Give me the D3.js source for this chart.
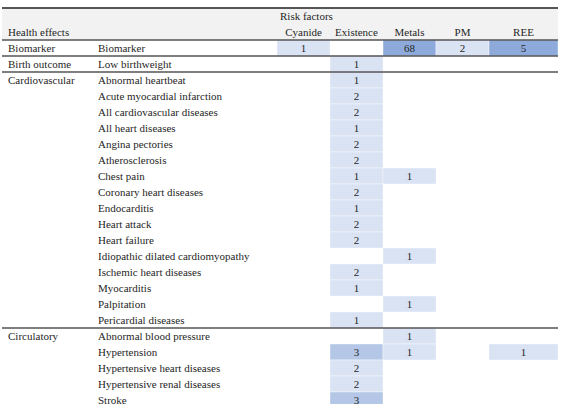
<!DOCTYPE html>
<html>
<head>
<meta charset="utf-8">
<script src="https://cdn.jsdelivr.net/npm/d3@7"></script>
<style>
  html, body { margin: 0; padding: 0; background: #fff; }
  svg { display: block; }
  svg text { font-family: "Liberation Serif", "DejaVu Serif", serif; font-size: 11px; fill: #262626; }
</style>
</head>
<body>
<script>
// ---- data ----
const riskFactors = ["Cyanide", "Existence", "Metals", "PM", "REE"];
const groups = ["Biomarker", "Birth outcome", "Cardiovascular", "", "", "", "", "", "", "", "", "", "", "", "", "", "", "",
                "Circulatory", "", "", "", ""];
const effects = ["Biomarker", "Low birthweight", "Abnormal heartbeat", "Acute myocardial infarction",
  "All cardiovascular diseases", "All heart diseases", "Angina pectories", "Atherosclerosis", "Chest pain",
  "Coronary heart diseases", "Endocarditis", "Heart attack", "Heart failure", "Idiopathic dilated cardiomyopathy",
  "Ischemic heart diseases", "Myocarditis", "Palpitation", "Pericardial diseases", "Abnormal blood pressure",
  "Hypertension", "Hypertensive heart diseases", "Hypertensive renal diseases", "Stroke"];
const cyanide   = [1, null, null, null, null, null, null, null, null, null, null, null, null, null, null, null, null, null, null, null, null, null, null];
const existence = [null, 1, 1, 2, 2, 1, 2, 2, 1, 2, 1, 2, 2, null, 2, 1, null, 1, null, 3, 2, 2, 3];
const metals    = [68, null, null, null, null, null, null, null, 1, null, null, null, null, 1, null, null, 1, null, 1, 1, null, null, null];
const pm        = [2, null, null, null, null, null, null, null, null, null, null, null, null, null, null, null, null, null, null, null, null, null, null];
const ree       = [5, null, null, null, null, null, null, null, null, null, null, null, null, null, null, null, null, null, null, 1, null, null, null];
const groupBreaks = ["Birth outcome", "Cardiovascular", "Circulatory"]; // groups that start with a rule above
const headerTitle = "Risk factors";
const firstColTitle = "Health effects";

// ---- layout ----
const W = 572, H = 410, clipBottom = 404;
const tableLeft = 2, tableRight = 558;
const topY = 8, headY = 40, rowH = 16;
const colStart = 277, colW = 53;
const FONT = "'Liberation Serif', 'DejaVu Serif', serif";

const series = [cyanide, existence, metals, pm, ree];

const svg = d3.select("body").append("svg").attr("width", W).attr("height", H)
  .attr("font-family", FONT).attr("font-size", 11);

svg.append("defs").append("clipPath").attr("id", "clip")
  .append("rect").attr("x", 0).attr("y", 0).attr("width", W).attr("height", clipBottom);

const y = d3.scaleBand().domain(d3.range(effects.length))
  .range([headY, headY + rowH * effects.length]).paddingInner(0).paddingOuter(0);
const x = d3.scaleBand().domain(riskFactors)
  .range([colStart, colStart + colW * riskFactors.length]).padding(0);
const color = d3.scaleThreshold().domain([3, 4]).range(["#dae3f3", "#b4c7e7", "#8eaadb"]);

function cellW(rf) { return rf === riskFactors[riskFactors.length - 1] ? tableRight - x(rf) : x.bandwidth(); }

// header background
svg.append("rect").attr("x", tableLeft).attr("y", topY).attr("width", tableRight - tableLeft)
  .attr("height", headY - topY).attr("fill", "#f2f2f2");

// cells
const cells = [];
series.forEach((s, j) => s.forEach((v, i) => { if (v != null) cells.push({ i, rf: riskFactors[j], v }); }));

svg.append("g").attr("clip-path", "url(#clip)").selectAll("rect").data(cells).join("rect")
  .attr("x", d => x(d.rf)).attr("y", d => y(d.i))
  .attr("width", d => cellW(d.rf)).attr("height", y.bandwidth())
  .attr("fill", d => color(d.v))
  .attr("stroke", "#fff").attr("stroke-width", 0.4);

svg.append("g").selectAll("text").data(cells).join("text")
  .attr("font-family", FONT)
  .attr("x", d => x(d.rf) + cellW(d.rf) / 2).attr("y", d => y(d.i) + y.bandwidth() / 2 + 1)
  .attr("text-anchor", "middle").attr("dominant-baseline", "middle")
  .text(d => d.v);

// header text
svg.append("text").attr("font-family", FONT).attr("x", colStart + 3).attr("y", 17)
  .attr("dominant-baseline", "middle").text(headerTitle);
svg.append("text").attr("font-family", FONT).attr("x", 8).attr("y", 33)
  .attr("dominant-baseline", "middle").text(firstColTitle);
svg.append("g").selectAll("text").data(riskFactors).join("text")
  .attr("font-family", FONT)
  .attr("x", d => x(d) + cellW(d) / 2).attr("y", 33)
  .attr("text-anchor", "middle").attr("dominant-baseline", "middle").text(d => d);

// row labels
svg.append("g").selectAll("text").data(groups).join("text")
  .attr("font-family", FONT)
  .attr("x", 8).attr("y", (d, i) => y(i) + y.bandwidth() / 2 + 1)
  .attr("dominant-baseline", "middle").text(d => d);
svg.append("g").selectAll("text").data(effects).join("text")
  .attr("font-family", FONT)
  .attr("x", 98).attr("y", (d, i) => y(i) + y.bandwidth() / 2 + 1)
  .attr("dominant-baseline", "middle").text(d => d);

// rules
const rules = [{ y: topY, w: 1.8 }, { y: headY, w: 1.3 }];
groups.forEach((g, i) => { if (groupBreaks.includes(g)) rules.push({ y: y(i), w: 1.3 }); });
svg.append("g").selectAll("line").data(rules).join("line")
  .attr("x1", tableLeft).attr("x2", tableRight)
  .attr("y1", d => d.y).attr("y2", d => d.y)
  .attr("stroke", "#555").attr("stroke-width", d => d.w);
</script>
</body>
</html>
